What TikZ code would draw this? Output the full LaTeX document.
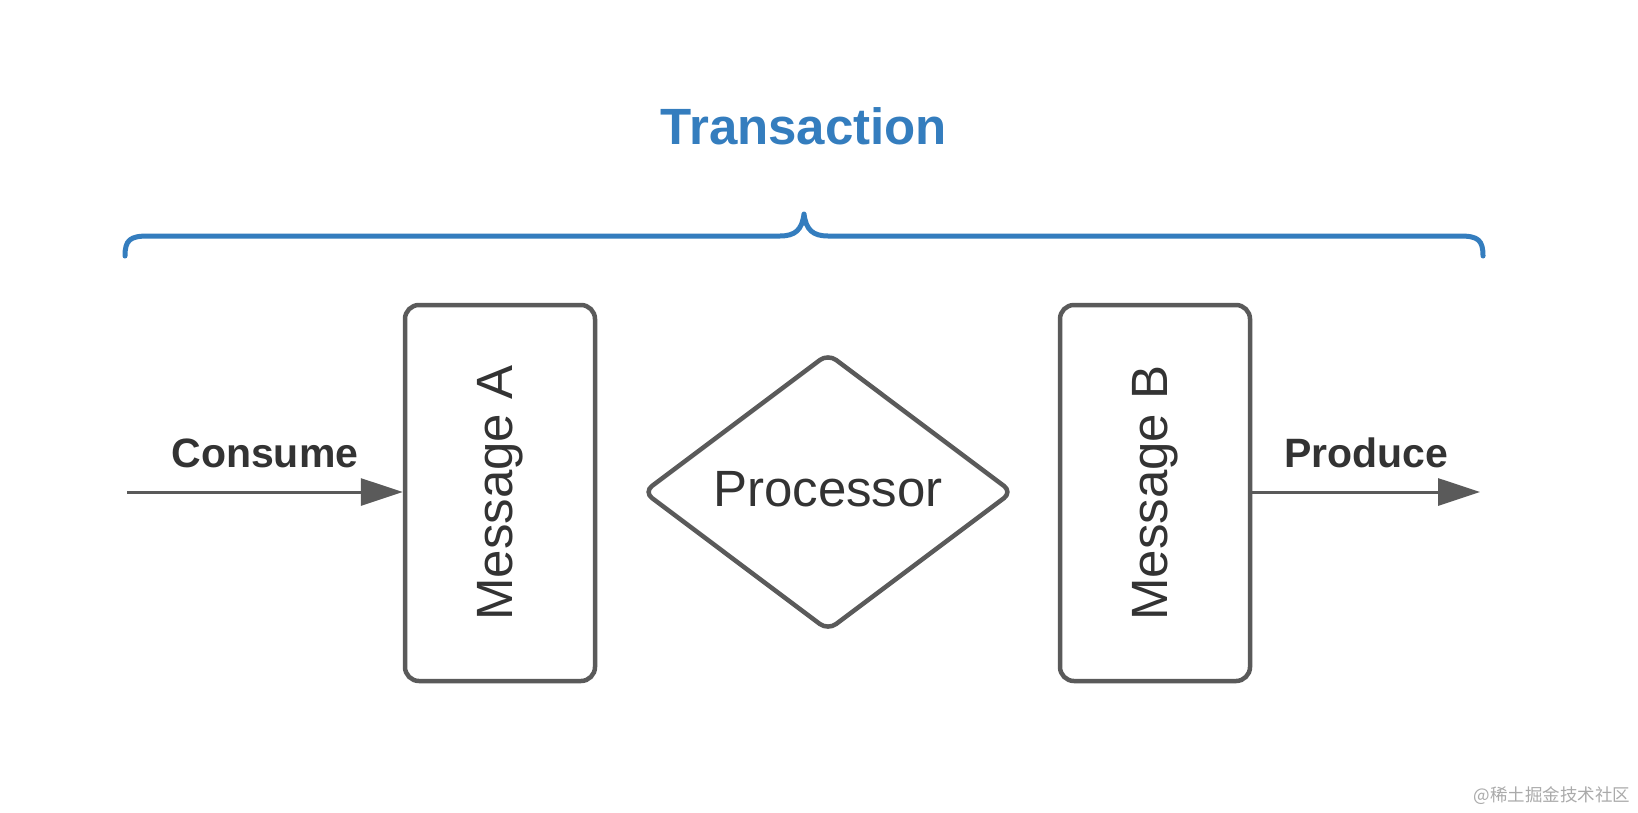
\documentclass[tikz,border=0pt]{standalone}
\usepackage{fontspec}
\setmainfont{Liberation Sans}
\newfontfamily\cjkfont{Noto Sans CJK SC}
\usetikzlibrary{shapes.geometric,arrows.meta}
\definecolor{tblue}{RGB}{52,125,190}
\definecolor{boxgray}{RGB}{90,90,90}
\definecolor{txtgray}{RGB}{51,51,51}
\definecolor{wmgray}{RGB}{170,170,170}
\tikzset{
  msgbox/.style={draw=boxgray, line width=4.5pt, rounded corners=14pt, rectangle,
    minimum width=190pt, minimum height=376pt, inner sep=0pt, fill=white,
    text=txtgray, font=\fontsize{51}{60}\selectfont},
  procbox/.style={draw=boxgray, line width=4.5pt, rounded corners=10pt, diamond,
    minimum width=370pt, minimum height=278pt, inner sep=0pt, fill=white,
    text=txtgray, font=\fontsize{51}{60}\selectfont},
  flow/.style={draw=boxgray, line width=3pt, -{Triangle[length=42pt,width=27pt]}},
  flowlbl/.style={anchor=base, text=txtgray, font=\fontsize{41}{48}\selectfont\bfseries},
  brace/.style={draw=tblue, line width=5pt, line cap=round, line join=round},
}
\begin{document}
\begin{tikzpicture}[x=1pt,y=-1pt]
\useasboundingbox[fill=white] (0,0) rectangle (1638,812);
% title
\node[anchor=base, text=tblue, font=\fontsize{51}{60}\selectfont\bfseries] (title) at (804,144) {Transaction};
% brace
\draw[brace] (125,256) .. controls (125,240) and (130,236) .. (148,236) -- (780,236)
  .. controls (795,236) and (802,230) .. (804,214)
  .. controls (806,230) and (813,236) .. (828,236) -- (1460,236)
  .. controls (1478,236) and (1483,240) .. (1483,256);
% nodes
\node[msgbox] (ma) at (500,493) {\rotatebox{90}{Message A}};
\node[procbox] (proc) at (828,492) {\raisebox{6pt}{Processor}};
\node[msgbox] (mb) at (1155,493) {\rotatebox{90}{Message B}};
% connectors
\coordinate (cin) at (127,492);
\coordinate (pout) at (1480,492);
\draw[flow] (cin) -- (cin -| ma.west) node[flowlbl, midway, yshift=25pt] (clbl) {Consume};
\draw[flow] (mb.east |- pout) -- (pout) node[flowlbl, midway, yshift=25pt] (plbl) {Produce};
% watermark
\node[text=wmgray, font=\cjkfont\fontsize{17.5}{20}\selectfont] (wm) at (1552,796) {@稀土掘金技术社区};
\end{tikzpicture}
\end{document}
